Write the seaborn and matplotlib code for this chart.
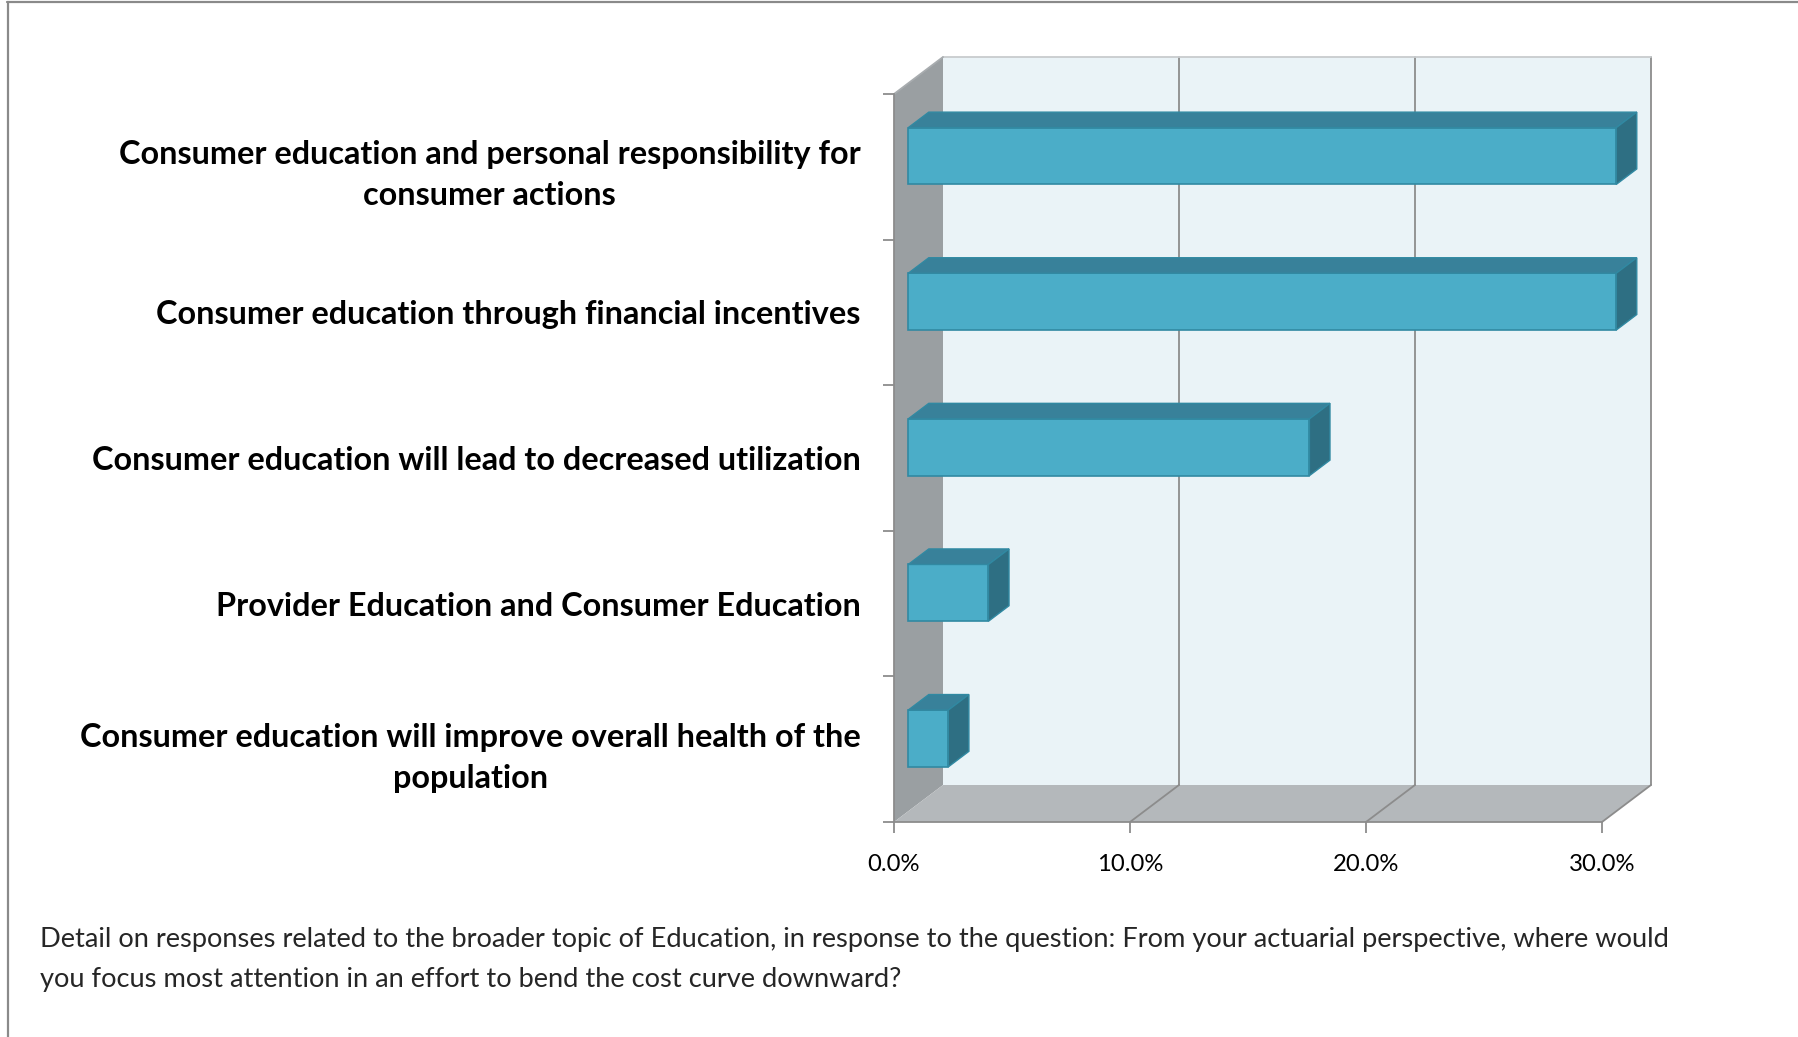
import matplotlib
matplotlib.use('Agg')
import matplotlib.pyplot as plt
from matplotlib.patches import Polygon
from matplotlib.transforms import IdentityTransform, ScaledTranslation
import seaborn as sns
import pandas as pd

sns.set_theme(style='white')
plt.rcParams['font.family'] = ['Lato', 'DejaVu Sans']

categories = [
    'Consumer education and personal responsibility for\nconsumer actions',
    'Consumer education through financial incentives',
    'Consumer education will lead to decreased utilization',
    'Provider Education and Consumer Education',
    'Consumer education will improve overall health of the\npopulation',
]
shares = [30.0, 30.0, 17.0, 3.4, 1.7]
xticks = [0, 10, 20, 30]
xticklabels = ['0.0%', '10.0%', '20.0%', '30.0%']
caption = [
    'Detail on responses related to the broader topic of Education, in response to the question: From your actuarial perspective, where would',
    'you focus most attention in an effort to bend the cost curve downward?',
]

# colours
front = '#4BADC8'
top = '#38819A'
side = '#2E6F83'
edge = '#3189A2'
wall = '#EAF3F7'
leftwall = '#9A9FA2'
floor = '#B4B8BB'
grid = '#8C8C8C'

W, H = 1798, 1037
fig = plt.figure(figsize=(W / 100, H / 100), dpi=100)

# front plane of the 3d box, in pixels from top left
L, R, T, B = 894, 1602, 94, 822
DX, DY = 49, 37          # depth offset of the back wall
f0, f1 = 0.29, 0.71      # depth slice the bars occupy

ax = fig.add_axes([L / W, 1 - B / H, (R - L) / W, (B - T) / H])
ax.patch.set_alpha(0)

df = pd.DataFrame({'category': categories, 'share': shares})
sns.barplot(data=df, x='share', y='category', orient='h', width=0.39,
            color=front, saturation=1, edgecolor=edge, linewidth=1.2,
            ax=ax, zorder=5)
ax.set_xlim(0, 30)
ax.set_ylim(4.5, -0.5)
ymax, ymin = 4.5, -0.5


def px(x, y, d=0.0):
    X, Y = ax.transData.transform((x, y))
    return (X + d * DX, Y + d * DY)


def poly(pts, fc, ec='none', lw=0, z=1):
    ax.add_patch(Polygon(pts, closed=True, facecolor=fc, edgecolor=ec,
                         linewidth=lw, transform=IdentityTransform(),
                         clip_on=False, zorder=z))


def line(p, q, c=grid, lw=1.3, z=2):
    ax.plot([p[0], q[0]], [p[1], q[1]], color=c, lw=lw,
            transform=IdentityTransform(), clip_on=False, zorder=z)


# walls and floor
poly([px(0, ymin, 1), px(30, ymin, 1), px(30, ymax, 1), px(0, ymax, 1)], wall, z=0.5)
poly([px(0, ymin, 0), px(0, ymin, 1), px(0, ymax, 1), px(0, ymax, 0)], leftwall, z=0.6)
poly([px(0, ymax, 0), px(30, ymax, 0), px(30, ymax, 1), px(0, ymax, 1)], floor, z=0.6)

for xv in xticks[1:]:
    line(px(xv, ymin, 1), px(xv, ymax, 1))
    line(px(xv, ymax, 0), px(xv, ymax, 1))
line(px(0, ymin, 1), px(30, ymin, 1), c='#C8CCCE')
line(px(0, ymin, 0), px(0, ymin, 1), c='#A8ACAF')

# 3d faces on each bar
shift = ScaledTranslation(f0 * DX / 100, f0 * DY / 100, fig.dpi_scale_trans)
for bar in ax.patches[:len(shares)]:
    x0, x1 = bar.get_x(), bar.get_x() + bar.get_width()
    yt, yl = bar.get_y(), bar.get_y() + bar.get_height()  # y axis is inverted
    bar.set_transform(ax.transData + shift)
    bar.set_clip_on(False)
    poly([px(x0, yt, f0), px(x1, yt, f0), px(x1, yt, f1), px(x0, yt, f1)],
         top, ec=edge, lw=1.0, z=5)
    poly([px(x1, yt, f0), px(x1, yl, f0), px(x1, yl, f1), px(x1, yt, f1)],
         side, ec=edge, lw=1.0, z=5)

# axes
for s in ['top', 'right']:
    ax.spines[s].set_visible(False)
for s in ['left', 'bottom']:
    ax.spines[s].set_color(grid)
    ax.spines[s].set_linewidth(1.3)
    ax.spines[s].set_zorder(3)

ax.set_xticks(xticks, xticklabels)
ax.set_yticks([i - 0.5 for i in range(len(categories) + 1)], [''] * (len(categories) + 1))
ax.set_yticks(range(len(categories)), categories, minor=True)
ax.tick_params(axis='x', bottom=True, length=8, width=1.3, color=grid,
               pad=15, labelsize=17.2, labelcolor='black')
ax.tick_params(axis='y', which='major', left=True, length=8, width=1.3, color=grid)
ax.tick_params(axis='y', which='minor', left=True, length=0, pad=24,
               labelsize=23.3, labelcolor='black')
for lab in ax.get_yticklabels(minor=True):
    lab.set_fontweight('bold')
    lab.set_multialignment('center')
    lab.set_linespacing(1.5)
ax.set_xlabel('')
ax.set_ylabel('')

fig.text(40 / W, 1 - 939 / H, caption[0], fontsize=19.6, va='center', ha='left')
fig.text(40 / W, 1 - 980 / H, caption[1], fontsize=19.6, va='center', ha='left')

# frame lines along the top and left edge of the page
fig.add_artist(plt.Line2D([7, W], [H - 1.5, H - 1.5], color='#8A8A8A', lw=1.6,
                          transform=IdentityTransform()))
fig.add_artist(plt.Line2D([7.5, 7.5], [0, H - 1.5], color='#8A8A8A', lw=1.6,
                          transform=IdentityTransform()))

fig.savefig('out.png', dpi=100)
